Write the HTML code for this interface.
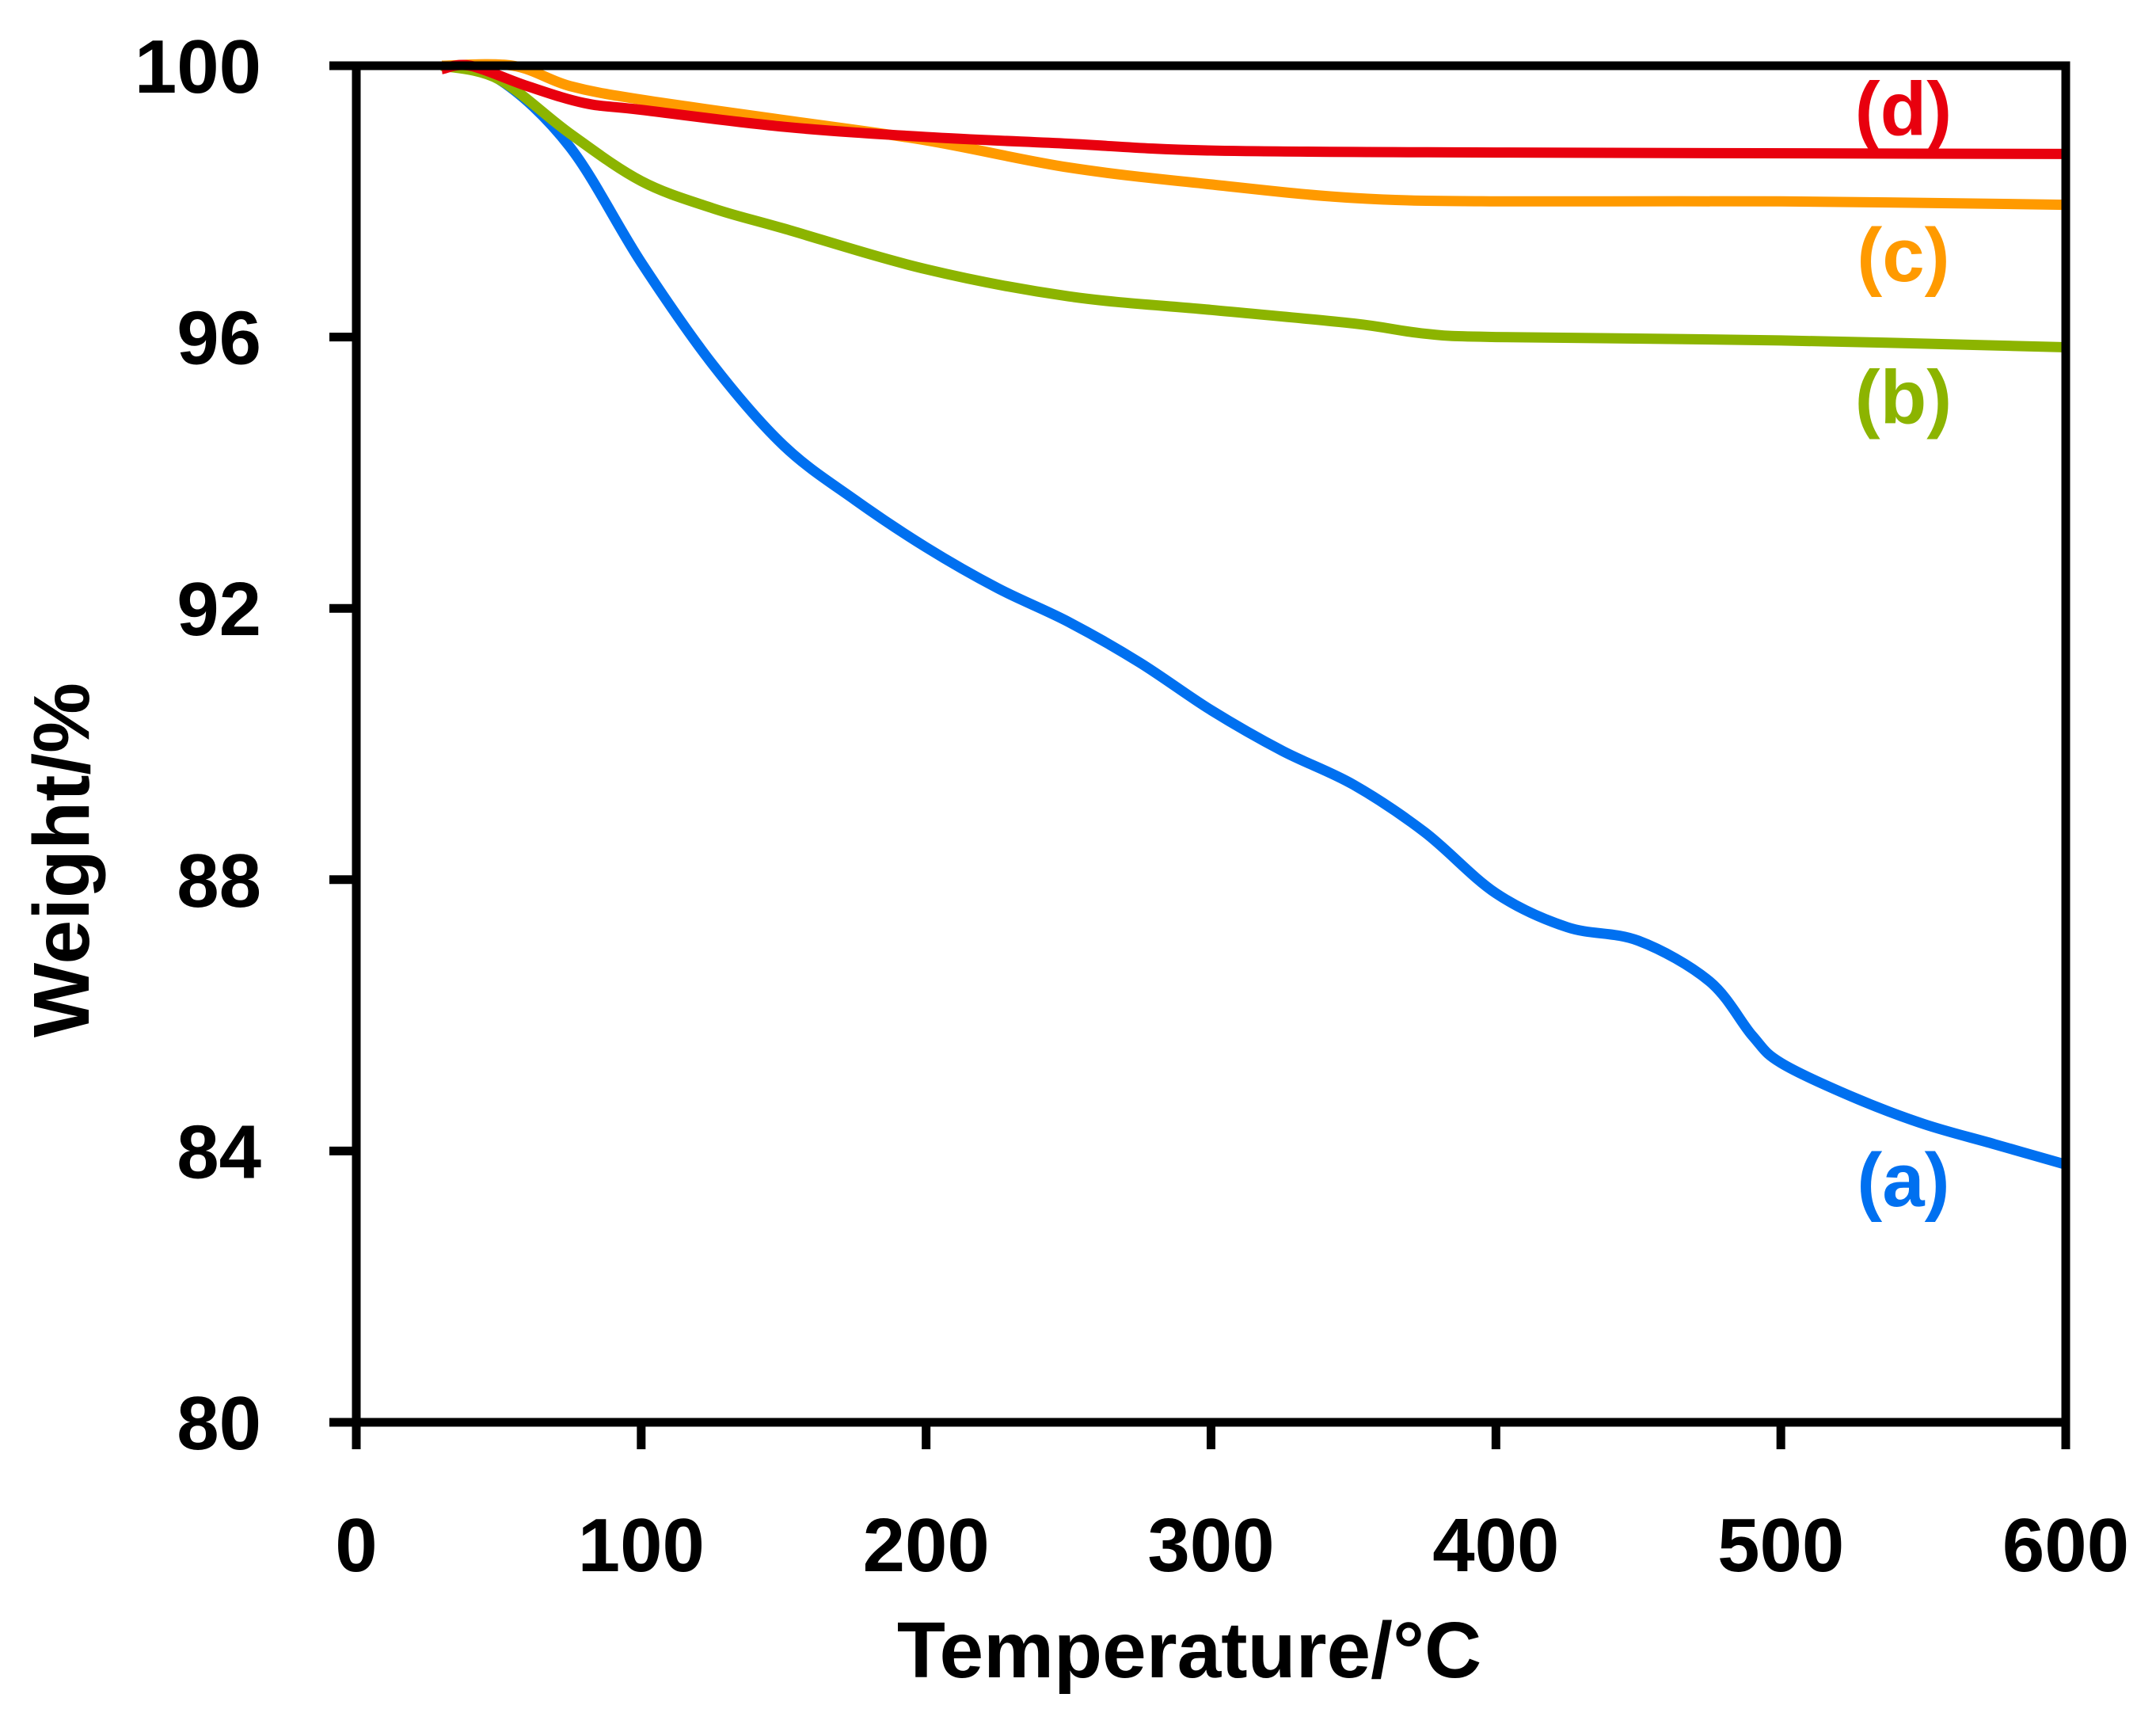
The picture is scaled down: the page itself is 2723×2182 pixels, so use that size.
<!DOCTYPE html>
<html><head><meta charset="utf-8"><style>
html,body{margin:0;padding:0;background:#fff;}
svg text{font-family:"Liberation Sans",sans-serif;font-weight:bold;}
</style></head><body>
<svg id="chart" width="2723" height="2177" viewBox="0 0 2723 2177" xmlns="http://www.w3.org/2000/svg">
<g id="plot"></g>
<text x="1502" y="2118" font-size="100" text-anchor="middle">Temperature/°C</text>
<text transform="translate(112,1086) rotate(-90)" font-size="100" text-anchor="middle">Weight/%</text>
</svg>
<script>
const xTicks=[0,100,200,300,400,500,600];
const yTicks=[80,84,88,92,96,100];
const tempA=[30,50,75,100,125,150,175,200,225,250,275,300,325,350,375,400,425,450,475,490,500,525,550,575,600];
const weightA=[100,99.8,98.8,97.1,95.6,94.4,93.6,92.9,92.3,91.8,91.2,90.5,89.9,89.4,88.7,87.8,87.3,87.1,86.5,85.7,85.3,84.8,84.4,84.1,83.8];
const tempB=[30,50,75,100,125,150,200,250,300,350,375,400,500,600];
const weightB=[100,99.8,99.0,98.3,97.9,97.6,97.0,96.6,96.4,96.2,96.05,96.0,95.95,95.85];
const tempC=[30,55,75,100,150,200,250,300,350,400,500,600];
const weightC=[100,100,99.7,99.5,99.2,98.9,98.5,98.25,98.05,98.0,98.0,97.95];
const tempD=[30,40,60,80,100,150,200,250,300,400,600];
const weightD=[99.95,100,99.7,99.45,99.35,99.1,98.95,98.85,98.75,98.72,98.7];
const seriesLabels=["(a)","(b)","(c)","(d)"];
const labelPos=[[543,83.56],[543,95.1],[543,97.2],[543,99.35]];

const X0=450,X1=2609,Y0=1796,Y1=83;
const xs=v=>X0+(v-0)/600*(X1-X0);
const ys=v=>Y0-(v-80)/20*(Y0-Y1);
const NS="http://www.w3.org/2000/svg";
const g=document.getElementById('plot');
function mk(tag,attrs){const e=document.createElementNS(NS,tag);for(const k in attrs)e.setAttribute(k,attrs[k]);g.appendChild(e);return e;}

const series=[[tempA,weightA,"#0070f0"],[tempB,weightB,"#8cb400"],[tempC,weightC,"#ff9a00"],[tempD,weightD,"#e8000e"]];
const names=['series-a-line','series-b-line','series-c-line','series-d-line'];
series.forEach((s,i)=>{
  const pts=s[0].map((t,j)=>[xs(t),ys(s[1][j])]);
  let d="M"+pts[0][0]+","+pts[0][1];
  for(let j=1;j<pts.length;j++){
    const p0=pts[Math.max(j-2,0)],p1=pts[j-1],p2=pts[j],p3=pts[Math.min(j+1,pts.length-1)];
    const c1=[p1[0]+(p2[0]-p0[0])/6,p1[1]+(p2[1]-p0[1])/6];
    const c2=[p2[0]-(p3[0]-p1[0])/6,p2[1]-(p3[1]-p1[1])/6];
    d+=` C${c1[0]},${c1[1]} ${c2[0]},${c2[1]} ${p2[0]},${p2[1]}`;
  }
  const p=mk('path',{d:d,fill:'none',stroke:s[2],'stroke-width':13,'stroke-linejoin':'round'});
  
  
  const t=mk('text',{x:xs(labelPos[i][0]),y:ys(labelPos[i][1])+32,'font-size':96,fill:s[2],'text-anchor':'middle'});
  t.textContent=seriesLabels[i];
  
  
});

const frame=mk('rect',{x:X0,y:Y1,width:X1-X0,height:Y0-Y1,fill:'none',stroke:'#000','stroke-width':11});



xTicks.forEach(v=>{
  const l=mk('line',{x1:xs(v),x2:xs(v),y1:Y0,y2:Y0+34,stroke:'#000','stroke-width':11});
  
  
  const t=mk('text',{x:xs(v),y:Y0+188,'font-size':96,'text-anchor':'middle'});
  t.textContent=v;
  
  
});
yTicks.forEach(v=>{
  const l=mk('line',{x1:X0-34,x2:X0,y1:ys(v),y2:ys(v),stroke:'#000','stroke-width':11});
  
  
  const t=mk('text',{x:330,y:ys(v)+34,'font-size':96,'text-anchor':'end'});
  t.textContent=v;
  
  
});
</script>
</body></html>
